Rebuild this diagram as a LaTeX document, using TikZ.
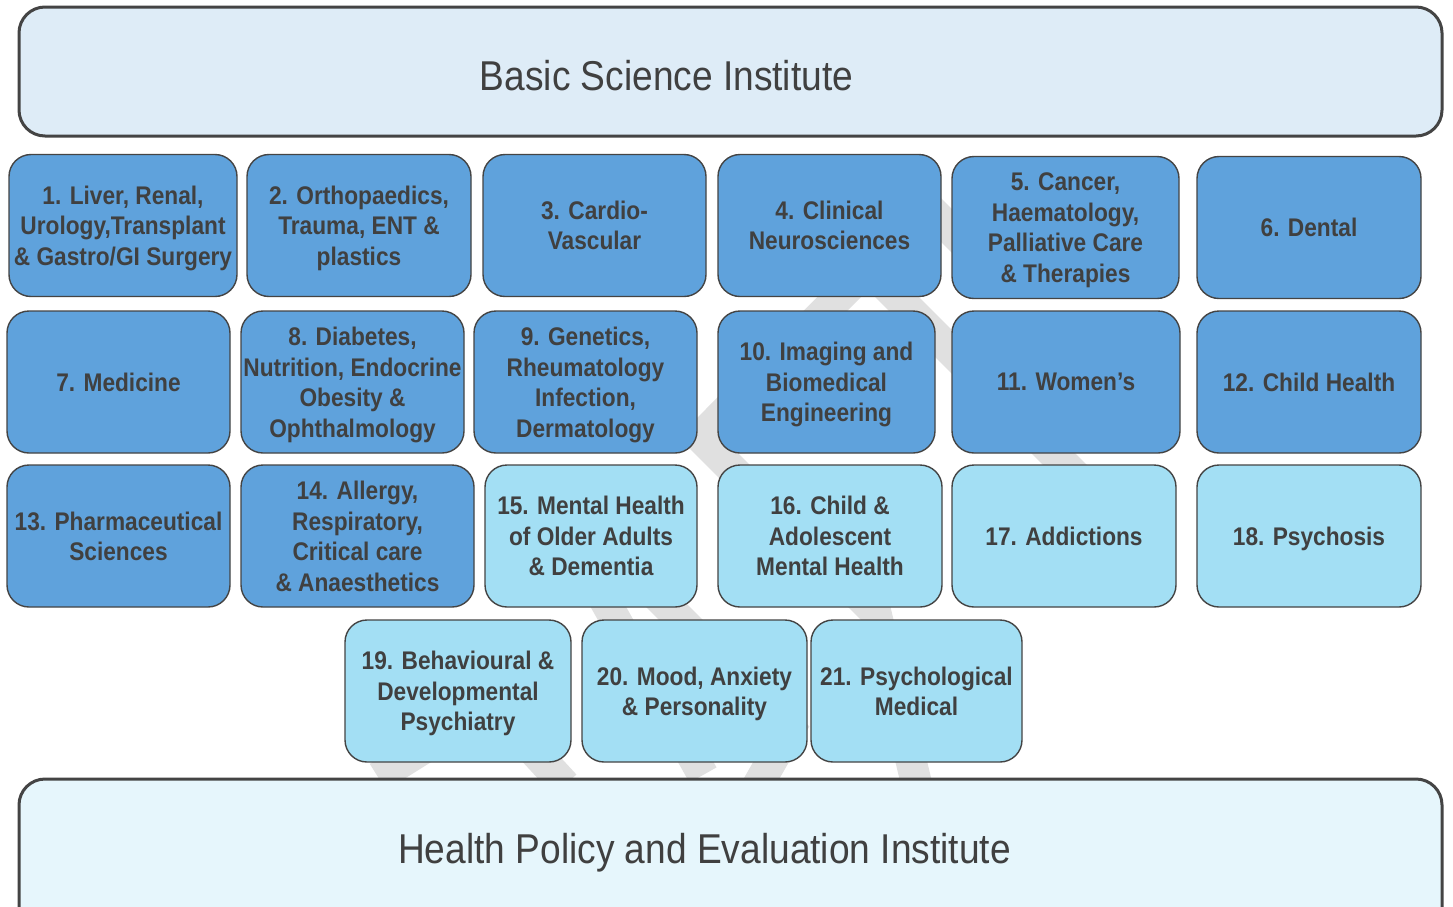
\documentclass[tikz,border=0pt]{standalone}
\usepackage{fontspec}
\setmainfont{Liberation Sans}[FakeStretch=0.89]
\usepackage{tikz}

\definecolor{darkblue}{RGB}{95,162,220}
\definecolor{lightblue}{RGB}{163,223,244}
\definecolor{topblue}{RGB}{222,236,247}
\definecolor{bottomblue}{RGB}{230,246,252}
\definecolor{edgegray}{RGB}{68,68,68}
\definecolor{textgray}{RGB}{64,64,64}
\definecolor{bandgray}{RGB}{224,224,224}

\tikzset{
  cell/.style={rectangle,rounded corners=22pt,draw=edgegray,line width=1.4pt,minimum height=142pt,inner sep=0pt,text depth=0pt,align=center,text=textgray,font=\fontsize{25.5}{30.5}\selectfont\bfseries},
  darkcell/.style={cell,fill=darkblue},
  lightcell/.style={cell,fill=lightblue},
  institute/.style={rectangle,rounded corners=26pt,draw=edgegray,line width=3pt},
  title/.style={anchor=base,inner sep=0pt,text=textgray,font=\fontsize{41.7}{48}\selectfont},
  band/.style={draw=bandgray,line width=31pt}
}

\begin{document}
\begin{tikzpicture}[x=1pt,y=-1pt]
\useasboundingbox (0,0) rectangle (1453,906);
\clip (0,0) rectangle (1453,906);
\fill[white] (0,0) rectangle (1453,906);
%Background bands
\draw [band] (905,184) -- (990,269);
\draw [band] (1110,510) -- (868,268) -- (700,437) -- (876,613) -- (918,790);
\draw [band] (596,585) -- (703,775);
\draw [band] (640,579) -- (790,729) -- (755,790);
\draw [band] (505,720) -- (565,785);
\draw [band] (450,732) -- (378,777);
%Institutes
\node at (730.5,71.5) [institute,fill=topblue,minimum width=1423pt,minimum height=129pt] (basic) {};
\node at (666.5,90) [title] (basictext) {Basic Science Institute};
\node at (730.5,860) [institute,fill=bottomblue,minimum width=1423pt,minimum height=162pt] (policy) {};
\node at (704.5,863) [title] (policytext) {Health Policy and Evaluation Institute};
%Row 1
\node at (123,225.5) [darkcell,minimum width=228pt] (box1) {1. Liver, Renal,\\Urology,Transplant\\\& Gastro/GI Surgery};
\node at (359,225.5) [darkcell,minimum width=224pt] (box2) {2. Orthopaedics,\\Trauma, ENT \&\\plastics};
\node at (594.5,225.5) [darkcell,minimum width=223pt] (box3) {3. Cardio-\\Vascular};
\node at (829.5,225.5) [darkcell,minimum width=223pt] (box4) {4. Clinical\\Neurosciences};
\node at (1065.5,227.5) [darkcell,minimum width=227pt] (box5) {5. Cancer,\\Haematology,\\Palliative Care\\\& Therapies};
\node at (1309,227.5) [darkcell,minimum width=224pt] (box6) {6. Dental};
%Row 2
\node at (118.5,382) [darkcell,minimum width=223pt] (box7) {7. Medicine};
\node at (352.5,382) [darkcell,minimum width=223pt] (box8) {8. Diabetes,\\Nutrition, Endocrine\\Obesity \&\\Ophthalmology};
\node at (585.5,382) [darkcell,minimum width=223pt] (box9) {9. Genetics,\\Rheumatology\\Infection,\\Dermatology};
\node at (826.5,382) [darkcell,minimum width=217pt] (box10) {10. Imaging and\\Biomedical\\Engineering};
\node at (1066,382) [darkcell,minimum width=228pt] (box11) {11. Women’s};
\node at (1309,382) [darkcell,minimum width=224pt] (box12) {12. Child Health};
%Row 3
\node at (118.5,536) [darkcell,minimum width=223pt] (box13) {13. Pharmaceutical\\Sciences};
\node at (357.5,536) [darkcell,minimum width=233pt] (box14) {14. Allergy,\\Respiratory,\\Critical care\\\& Anaesthetics};
\node at (591,536) [lightcell,minimum width=212pt] (box15) {15. Mental Health\\of Older Adults\\\& Dementia};
\node at (830,536) [lightcell,minimum width=224pt] (box16) {16. Child \&\\Adolescent\\Mental Health};
\node at (1064,536) [lightcell,minimum width=224pt] (box17) {17. Addictions};
\node at (1309,536) [lightcell,minimum width=224pt] (box18) {18. Psychosis};
%Row 4
\node at (458,691) [lightcell,minimum width=226pt] (box19) {19. Behavioural \&\\Developmental\\Psychiatry};
\node at (694.5,691) [lightcell,minimum width=225pt] (box20) {20. Mood, Anxiety\\\& Personality};
\node at (916.5,691) [lightcell,minimum width=211pt] (box21) {21. Psychological\\Medical};
\end{tikzpicture}
\end{document}
